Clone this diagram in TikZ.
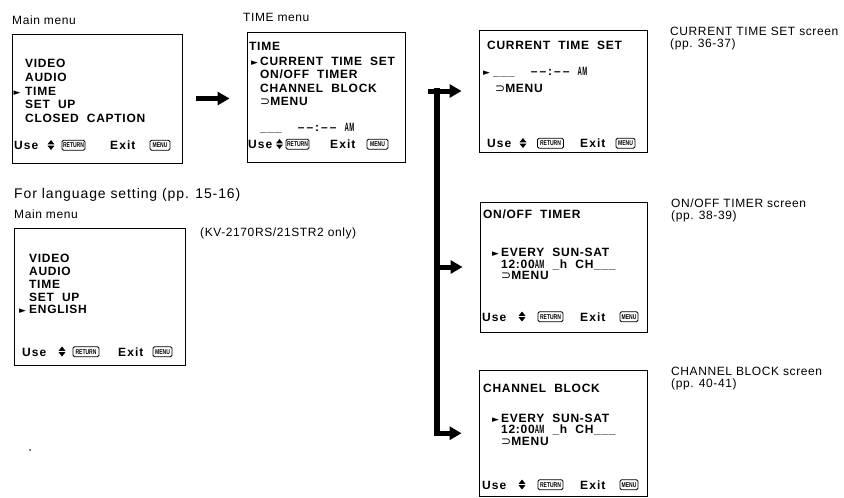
\documentclass[tikz,border=0pt]{standalone}
\usepackage{fontspec}
\setmainfont{Liberation Sans}
\newfontfamily\lblfont[LetterSpace=5]{Liberation Sans}
\newfontfamily\bigfont[LetterSpace=6.5]{Liberation Sans}
\newfontfamily\scrfont[LetterSpace=6,WordSpace=2]{Liberation Sans}
\newfontfamily\usefnt[LetterSpace=9]{Liberation Sans}
\newfontfamily\djvu{DejaVu Sans}
\usetikzlibrary{arrows.meta}
\newcommand\amsym{\scalebox{0.5}[1]{AM}}
\newcommand\supsym{{\djvu\mdseries ⊃}}
\newcommand\clock{\textendash\,\textendash\,:\,\textendash\,\textendash}
\newcommand\updown[2]{\begin{scope}[shift={(#1,#2)}]\fill (-3.4,-5.2) -- (3.4,-5.2) -- (0,-9.5) -- cycle; \fill (-3.4,-3.8) -- (3.4,-3.8) -- (0,0.5) -- cycle;\end{scope}}
\newcommand\useline[9]{%
 \node[uselbl] (#1use) at (#2,#9) {Use};
 \updown{#3}{#9}
 \node[icon, minimum width=#5pt] (#1ret) at (#4,#9-4.3) {\scalebox{0.72}[1]{RETURN}};
 \node[uselbl] (#1exit) at (#6,#9) {Exit};
 \node[icon, minimum width=#8pt] (#1menu) at (#7,#9-4.3) {\scalebox{0.72}[1]{MENU}};}
\begin{document}
\begin{tikzpicture}[x=1pt,y=-1pt,
  scrbox/.style={draw, line width=0.9pt, inner sep=0pt},
  lbl/.style={anchor=base west, inner sep=0pt, font=\lblfont\fontsize{12}{12}\selectfont},
  sl/.style={anchor=base west, inner sep=0pt, font=\scrfont\bfseries\fontsize{12}{12}\selectfont},
  ptr/.style={anchor=base west, inner sep=0pt, font=\djvu\fontsize{9}{9}\selectfont},
  icon/.style={draw, line width=0.9pt, rounded corners=1.5pt, inner sep=0pt, minimum height=10pt, font=\bfseries\fontsize{7}{7}\selectfont},
  uselbl/.style={anchor=base west, inner sep=0pt, font=\usefnt\bfseries\fontsize{12}{12}\selectfont},
  fat/.style={line width=5pt, -{Triangle[length=12pt,width=13pt]}},
]
\useasboundingbox (0,0) rectangle (844,498);

% labels
\node[lbl] (l1) at (12,24) {Main menu};
\node[lbl] (l2) at (243,21) {TIME menu};
\node[lbl] (l3) at (670,35) {CURRENT TIME SET screen};
\node[lbl] (l3b) at (670,47.5) {(pp. 36-37)};
\node[lbl] (l4) at (671,207) {ON/OFF TIMER screen};
\node[lbl] (l4b) at (671,219.5) {(pp. 38-39)};
\node[lbl] (l5) at (671,375) {CHANNEL BLOCK screen};
\node[lbl] (l5b) at (671,387.5) {(pp. 40-41)};
\node[lbl, font=\bigfont\fontsize{14}{14}\selectfont] (l6) at (14,198) {For language setting (pp. 15-16)};
\node[lbl] (l7) at (14,218) {Main menu};
\node[lbl] (l8) at (200,236) {(KV-2170RS/21STR2 only)};

% boxes
\node[scrbox, minimum width=170pt, minimum height=129pt] (m1) at (97,98.5) {};
\node[scrbox, minimum width=158pt, minimum height=130pt] (m2) at (326,97) {};
\node[scrbox, minimum width=168pt, minimum height=122pt] (m3) at (563,91) {};
\node[scrbox, minimum width=167pt, minimum height=130pt] (m4) at (563.5,267) {};
\node[scrbox, minimum width=168pt, minimum height=126.5pt] (m5) at (563,433.25) {};
\node[scrbox, minimum width=171pt, minimum height=137pt] (m6) at (99.5,296.5) {};

% box 1
\node[sl] (m1a) at (25,67) {VIDEO};
\node[sl] (m1b) at (25,81) {AUDIO};
\node[ptr] (m1p) at (13.5,95) {►};
\node[sl] (m1c) at (25,95) {TIME};
\node[sl] (m1d) at (25,108) {SET UP};
\node[sl] (m1e) at (25,122) {CLOSED CAPTION};
\useline{m1}{14}{51}{73.5}{23}{110}{160}{20}{149.5}

% box 2
\node[sl] (m2a) at (249,50) {TIME};
\node[ptr] (m2p) at (251,65) {►};
\node[sl] (m2b) at (260,65) {CURRENT TIME SET};
\node[sl] (m2c) at (260,78.5) {ON/OFF TIMER};
\node[sl] (m2d) at (260,92.5) {CHANNEL BLOCK};
\node[sl] (m2e) at (260,105.5) {\supsym MENU};
\node[sl] (m2f) at (260,131) {\_\_\_ \ \clock\ \amsym};
\useline{m2}{248}{279.5}{297.5}{23}{330}{377.5}{21}{148.5}

% box 3
\node[sl] (m3a) at (487,49) {CURRENT TIME SET};
\node[ptr] (m3p) at (483,75) {►};
\node[sl] (m3b) at (493,75) {\_\_\_ \ \clock\ \amsym};
\node[sl] (m3c) at (495,92) {\supsym MENU};
\useline{m3}{487}{523}{550.5}{26}{580}{625.5}{19}{147.5}

% box 4
\node[sl] (m4a) at (483,218.5) {ON/OFF TIMER};
\node[ptr] (m4p) at (492,256.5) {►};
\node[sl] (m4b) at (501,256.5) {EVERY SUN-SAT};
\node[sl] (m4c) at (501,268.5) {12:00\amsym\ \_h CH\_\_\_};
\node[sl] (m4d) at (501,279.5) {\supsym MENU};
\useline{m4}{482}{522}{550.5}{25}{580}{629}{18}{321}

% box 5
\node[sl] (m5a) at (483,392) {CHANNEL BLOCK};
\node[ptr] (m5p) at (492,422) {►};
\node[sl] (m5b) at (501,422) {EVERY SUN-SAT};
\node[sl] (m5c) at (501,433.5) {12:00\amsym\ \_h CH\_\_\_};
\node[sl] (m5d) at (501,445) {\supsym MENU};
\useline{m5}{482}{522}{550.5}{25}{580}{629}{18}{489}

% box 6
\node[sl] (m6a) at (29,262) {VIDEO};
\node[sl] (m6b) at (29,275.5) {AUDIO};
\node[sl] (m6c) at (29,288.5) {TIME};
\node[sl] (m6d) at (29,301) {SET UP};
\node[ptr] (m6p) at (19,313.5) {►};
\node[sl] (m6e) at (29,313.5) {ENGLISH};
\useline{m6}{22}{62}{86}{26}{118}{162.5}{19}{356}

% connectors
\draw[fat, shorten <=14pt, shorten >=17pt] (m1.east) -- (m1.east -| m2.west);
\coordinate (bus) at (437,0);
\coordinate (b3) at (bus |- m3.west);
\coordinate (b4) at (bus |- m4.west);
\coordinate (b5) at (bus |- m5.west);
\draw[line width=6pt, line cap=rect] (b3) -- (b5);
\draw[fat, shorten >=17pt] ([xshift=-9pt]b3) -- (m3.west);
\draw[fat, shorten >=17pt] (b4) -- (m4.west);
\draw[fat, shorten >=17pt] ([xshift=-3pt]b5) -- (m5.west);

\fill (30,450) circle (0.8pt);
\end{tikzpicture}
\end{document}
